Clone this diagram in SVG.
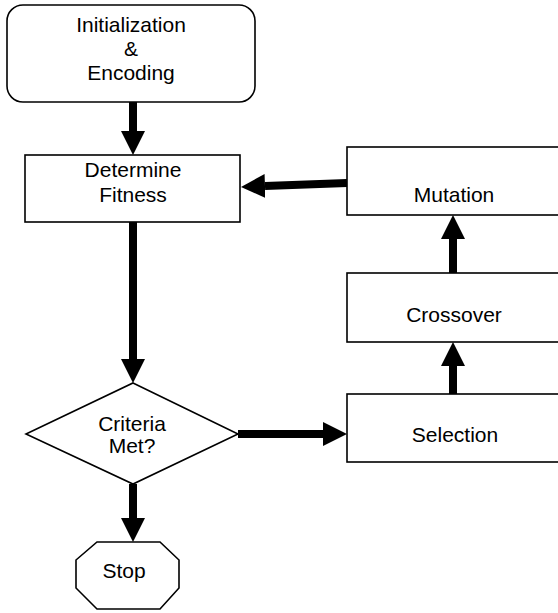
<svg xmlns="http://www.w3.org/2000/svg" width="558" height="613" viewBox="0 0 558 613">
<style>
.box{fill:#fff;stroke:#000;stroke-width:1.6}
.t{font-family:"Liberation Sans",Arial,sans-serif;font-size:21px;fill:#000;text-anchor:middle}
.c{fill:none;stroke:#000;stroke-width:8}
</style>
<defs>
<marker id="ah" markerUnits="userSpaceOnUse" markerWidth="24" markerHeight="24" refX="0" refY="12" orient="auto" viewBox="0 0 24 24">
<path d="M0,0 L24,12 L0,24 Z" fill="#000"/>
</marker>
</defs>
<rect width="558" height="613" fill="#fff"/>
<g id="connectors">
<line class="c" x1="133" y1="102" x2="133" y2="131" marker-end="url(#ah)"/>
<line class="c" x1="133" y1="222" x2="133" y2="359" marker-end="url(#ah)"/>
<line class="c" x1="133" y1="484" x2="133" y2="518" marker-end="url(#ah)"/>
<line class="c" x1="238" y1="434" x2="323" y2="434" marker-end="url(#ah)"/>
<line class="c" x1="453" y1="394" x2="453" y2="366" marker-end="url(#ah)"/>
<line class="c" x1="453" y1="273" x2="453" y2="239" marker-end="url(#ah)"/>
<line class="c" x1="347" y1="183" x2="265" y2="186" marker-end="url(#ah)"/>
</g>
<g id="init">
<rect class="box" x="7" y="5" width="248" height="97" rx="16"/>
<text class="t" x="131" y="32">Initialization</text>
<text class="t" x="131" y="56">&amp;</text>
<text class="t" x="131" y="80">Encoding</text>
</g>
<g id="fitness">
<rect class="box" x="25" y="155" width="215" height="67"/>
<text class="t" x="133" y="177">Determine</text>
<text class="t" x="133" y="202">Fitness</text>
</g>
<g id="mutation">
<rect class="box" x="347" y="147" width="220" height="68"/>
<text class="t" x="454" y="202">Mutation</text>
</g>
<g id="crossover">
<rect class="box" x="347" y="273" width="220" height="69"/>
<text class="t" x="454" y="322">Crossover</text>
</g>
<g id="selection">
<rect class="box" x="347" y="394" width="220" height="68"/>
<text class="t" x="455" y="442">Selection</text>
</g>
<g id="criteria">
<polygon class="box" points="133,383 238,434 133,484 26,434"/>
<text class="t" x="132" y="431">Criteria</text>
<text class="t" x="132" y="453">Met?</text>
</g>
<g id="stop">
<polygon class="box" points="97,542 160,542 179,560 179,588 160,609 97,609 76,588 76,560"/>
<text class="t" x="124" y="578">Stop</text>
</g>
</svg>
